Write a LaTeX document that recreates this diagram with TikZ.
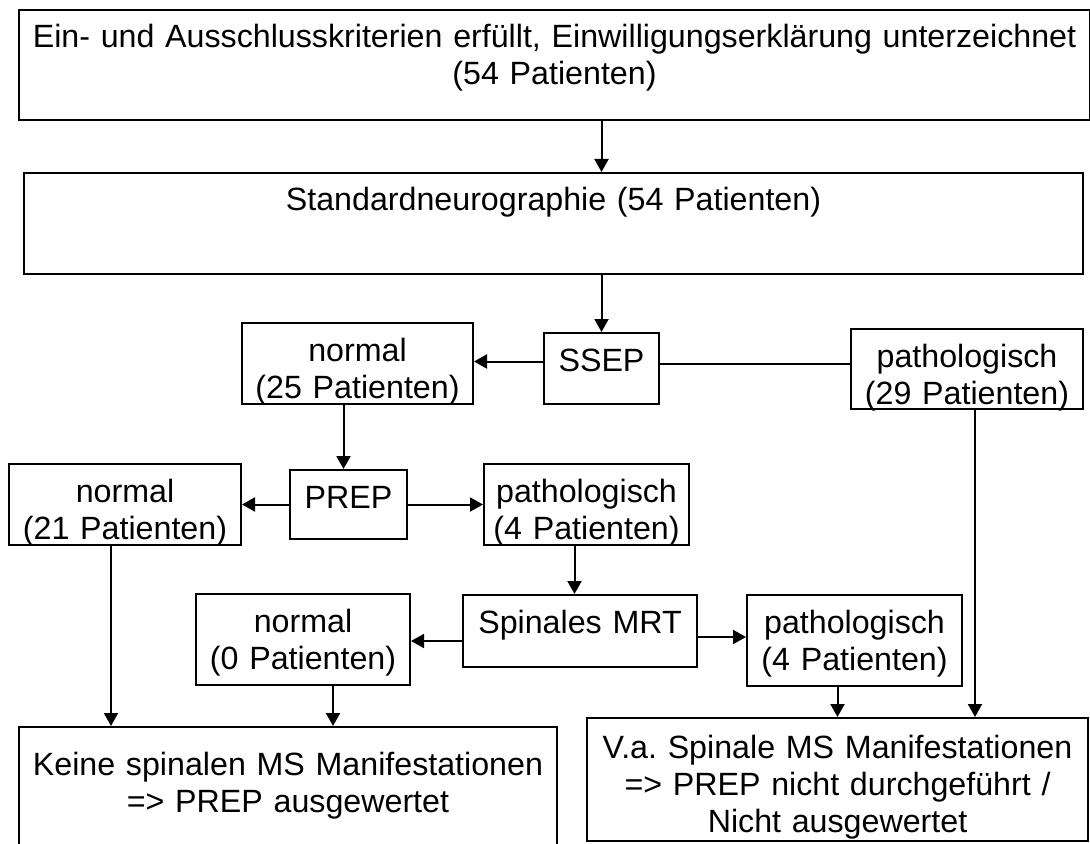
\documentclass[tikz,border=0pt]{standalone}
\usepackage{fontspec}
\setmainfont{Liberation Sans}
\usepackage{tikz}
\usetikzlibrary{arrows.meta}
\frenchspacing

\begin{document}
\begin{tikzpicture}[
  x=0.5pt,y=-0.5pt,line width=1pt,
  box/.style 2 args={draw,inner sep=0pt,anchor=north west,text width=#1,align=center,
    text height=19pt,text depth=#2,font=\fontsize{16.1}{18.5}\selectfont},
  >={Triangle[length=6.5pt,width=7pt]}]
  \useasboundingbox (0,0) rectangle (1090,844);
  % upper part
  \node[box={535.5pt}{36pt}] (incl) at (18,9) {Ein- und Ausschlusskriterien erfüllt, Einwilligungserklärung unterzeichnet\\(54 Patienten)};
  \node[box={529.5pt}{31.5pt}] (std) at (23,172) {Standardneurographie (54 Patienten)};
  \node[box={57.5pt}{16.5pt}] (ssep) at (543,332) {SSEP};
  \node[box={115.5pt}{21.5pt}] (n25) at (241,322) {normal\\(25 Patienten)};
  \node[box={116pt}{21pt}] (p29) at (850,328) {pathologisch\\(29 Patienten)};
  % PREP
  \node[box={58.5pt}{15.5pt}] (prep) at (289,469) {PREP};
  \node[box={116pt}{21.5pt}] (n21) at (8,463) {normal\\(21 Patienten)};
  \node[box={102.5pt}{21.5pt}] (p4) at (483,463) {pathologisch\\(4 Patienten)};
  % spinales MRT
  \node[box={117pt}{17pt}] (mrt) at (462,594) {Spinales MRT};
  \node[box={107pt}{26.5pt}] (n0) at (195,593) {normal\\(0 Patienten)};
  \node[box={107.5pt}{26.5pt}] (p4b) at (746,594) {pathologisch\\(4 Patienten)};
  % results
  \node[box={269pt}{40pt},text height=24pt] (keine) at (18,726) {Keine spinalen MS Manifestationen\\=> PREP ausgewertet};
  \node[box={250.5pt}{41.5pt},text height=20pt] (va) at (586,717) {V.a. Spinale MS Manifestationen\\=> PREP nicht durchgeführt /\\Nicht ausgewertet};

  \draw[->] (incl.south -| ssep.north) -- (std.north -| ssep.north);
  \draw[->] (std.south -| ssep.north) -- (ssep.north);
  \draw[->] ([yshift=3.5pt]ssep.west) -- ([yshift=3.5pt]ssep.west -| n25.east);
  \draw ([yshift=2.5pt]ssep.east) -- ([yshift=2.5pt]ssep.east -| p29.west);
  \draw[->] ([xshift=-7pt]n25.south) -- ([xshift=-7pt]n25.south |- prep.north);
  \draw[->] (prep.west) -- (prep.west -| n21.east);
  \draw[->] (prep.east) -- (prep.east -| p4.west);
  \draw[->] ([xshift=-6pt]p4.south) -- ([xshift=-6pt]p4.south |- mrt.north);
  \draw[->] ([yshift=-5pt]mrt.west) -- ([yshift=-5pt]mrt.west -| n0.east);
  \draw[->] ([yshift=-3pt]mrt.east) -- ([yshift=-3pt]mrt.east -| p4b.west);
  \draw[->] ([xshift=-7pt]n21.south) -- ([xshift=-7pt]n21.south |- keine.north);
  \draw[->] ([xshift=15pt]n0.south) -- ([xshift=15pt]n0.south |- keine.north);
  \draw[->] (p4b.south -| va.north) -- (va.north);
  \draw[->] ([xshift=4pt]p29.south) -- ([xshift=4pt]p29.south |- va.north);
\end{tikzpicture}
\end{document}
